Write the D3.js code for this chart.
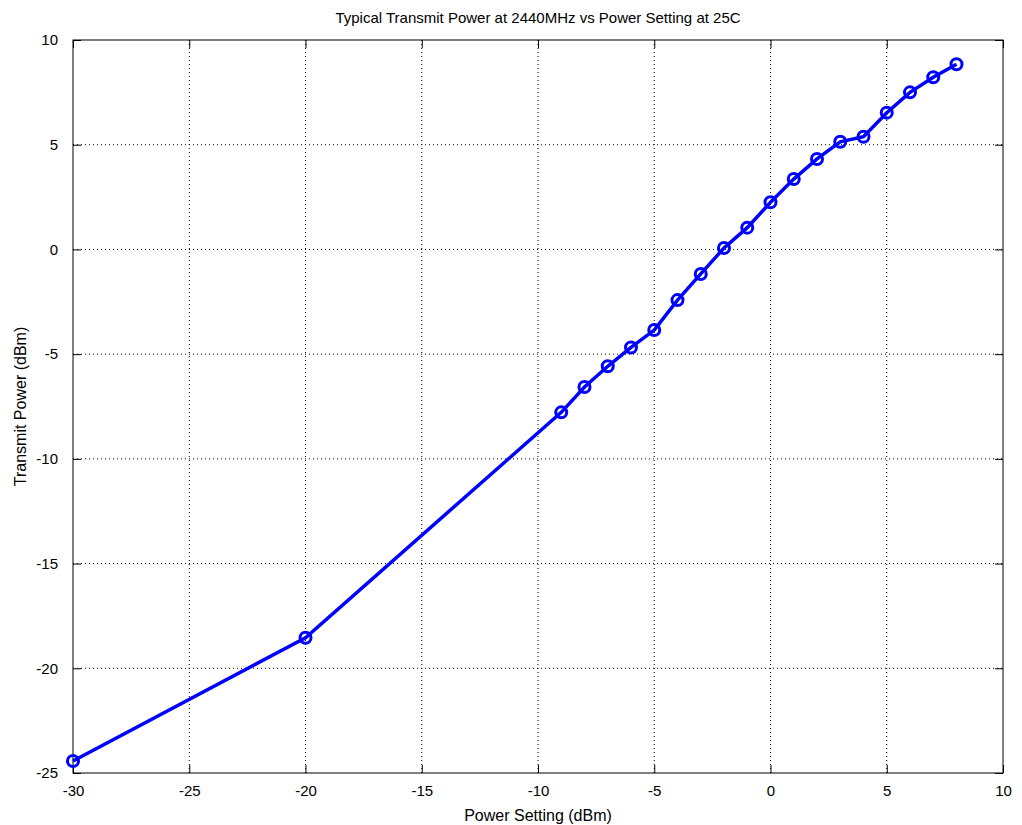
<!DOCTYPE html>
<html>
<head>
<meta charset="utf-8">
<script src="https://cdn.jsdelivr.net/npm/d3@7"></script>
<style>
  body { margin: 0; background: #fff; }
  text { font-family: "Liberation Sans", Arial, sans-serif; }
</style>
</head>
<body>
<div id="chart"></div>
<script>
// data
var settings = [-30, -20, -9, -8, -7, -6, -5, -4, -3, -2, -1, 0, 1, 2, 3, 4, 5, 6, 7, 8];
var power = [-24.43, -18.54, -7.78, -6.57, -5.58, -4.68, -3.85, -2.42, -1.17, 0.07, 1.04, 2.25, 3.36, 4.32, 5.14, 5.38, 6.53, 7.50, 8.22, 8.84];
var xTicks = [-30, -25, -20, -15, -10, -5, 0, 5, 10];
var yTicks = [-25, -20, -15, -10, -5, 0, 5, 10];

var width = 930, height = 733;
var margin = {top: 40, left: 73, right: 19, bottom: 52};

var svg = d3.select("#chart").append("svg")
  .attr("width", 1022)
  .attr("height", 825)
  .append("g")
  .attr("transform", "translate(" + margin.left + "," + margin.top + ")");

var x = d3.scaleLinear().domain([-30, 10]).range([0, width]);
var y = d3.scaleLinear().domain([-25, 10]).range([height, 0]);
var plain = function(d) { return String(d); }; // plain hyphen minus like the original

// grid
svg.append("g").selectAll("line").data(xTicks.slice(1, -1))
  .enter().append("line")
  .attr("x1", function(d) { return x(d); })
  .attr("x2", function(d) { return x(d); })
  .attr("y1", 0).attr("y2", height)
  .style("stroke", "#000").style("stroke-width", 1)
  .style("stroke-dasharray", "1,3");
svg.append("g").selectAll("line").data(yTicks.slice(1, -1))
  .enter().append("line")
  .attr("y1", function(d) { return y(d); })
  .attr("y2", function(d) { return y(d); })
  .attr("x1", 0).attr("x2", width)
  .style("stroke", "#000").style("stroke-width", 1)
  .style("stroke-dasharray", "1,3");

// axes (ticks inside, mirrored like matlab)
function styleAxis(g) {
  g.select(".domain").remove();
  g.selectAll("line").style("stroke", "#000");
  g.selectAll("text").style("font-size", "15px").style("fill", "#000");
}
svg.append("g")
  .attr("transform", "translate(0," + height + ")")
  .call(d3.axisBottom(x).tickValues(xTicks).tickSizeInner(-8).tickSizeOuter(0).tickPadding(12).tickFormat(plain))
  .call(styleAxis);
svg.append("g")
  .call(d3.axisTop(x).tickValues(xTicks).tickSizeInner(-8).tickSizeOuter(0).tickFormat(""))
  .call(styleAxis);
svg.append("g")
  .call(d3.axisLeft(y).tickValues(yTicks).tickSizeInner(-8).tickSizeOuter(0).tickPadding(15).tickFormat(plain))
  .call(styleAxis);
svg.append("g")
  .attr("transform", "translate(" + width + ",0)")
  .call(d3.axisRight(y).tickValues(yTicks).tickSizeInner(-8).tickSizeOuter(0).tickFormat(""))
  .call(styleAxis);

svg.append("rect")
  .attr("width", width).attr("height", height)
  .style("fill", "none").style("stroke", "#000").style("stroke-width", 1);

// line + markers
var pts = settings.map(function(s, i) { return {s: s, p: power[i]}; });
var valueLine = d3.line()
  .x(function(d) { return x(d.s); })
  .y(function(d) { return y(d.p); });
svg.append("path")
  .attr("d", valueLine(pts))
  .style("fill", "none").style("stroke", "#0000ff").style("stroke-width", 3.5);
svg.selectAll("circle").data(pts)
  .enter().append("circle")
  .attr("cx", function(d) { return x(d.s); })
  .attr("cy", function(d) { return y(d.p); })
  .attr("r", 5.5)
  .style("fill", "none").style("stroke", "#0000ff").style("stroke-width", 3);

// titles
svg.append("text")
  .attr("x", width / 2).attr("y", -17)
  .attr("text-anchor", "middle")
  .style("font-size", "15px")
  .text("Typical Transmit Power at 2440MHz vs Power Setting at 25C");
svg.append("text")
  .attr("x", width / 2).attr("y", height + 48)
  .attr("text-anchor", "middle")
  .style("font-size", "16px")
  .text("Power Setting (dBm)");
svg.append("text")
  .attr("transform", "translate(-47," + (height / 2) + ") rotate(-90)")
  .attr("text-anchor", "middle")
  .style("font-size", "16px")
  .text("Transmit Power (dBm)");
</script>
</body>
</html>
